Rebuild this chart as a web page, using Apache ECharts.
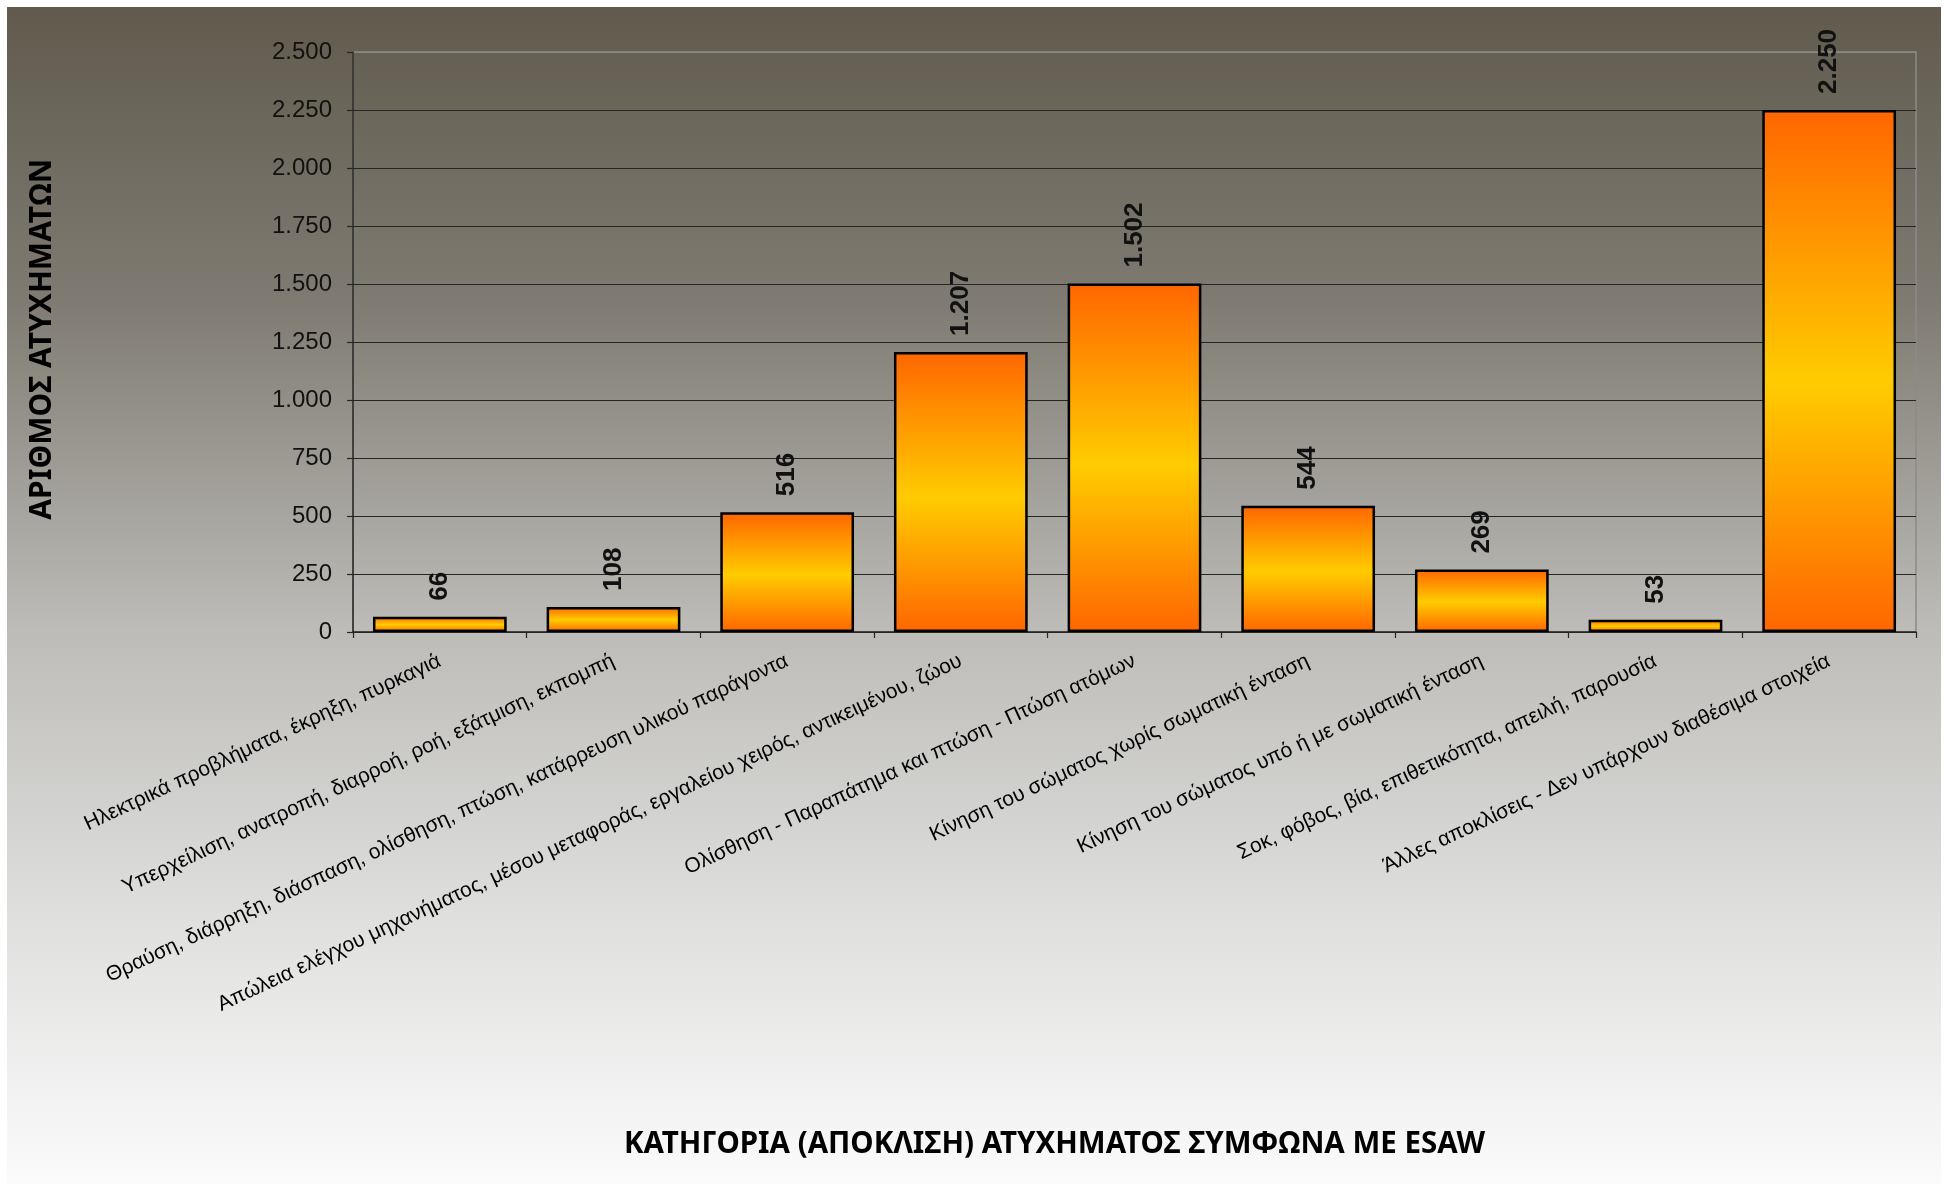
<!DOCTYPE html>
<html>
<head>
<meta charset="utf-8">
<script src="https://cdn.jsdelivr.net/npm/echarts@6/dist/echarts.min.js"></script>
<style>
html,body{margin:0;padding:0;background:#ffffff;}
#chart{position:absolute;left:7px;top:7px;width:1934px;height:1177px;}
</style>
</head>
<body>
<div id="chart"></div>
<script>
var categories = [
  "Ηλεκτρικά προβλήματα, έκρηξη, πυρκαγιά",
  "Υπερχείλιση, ανατροπή, διαρροή, ροή, εξάτμιση, εκπομπή",
  "Θραύση, διάρρηξη, διάσπαση, ολίσθηση, πτώση, κατάρρευση υλικού παράγοντα",
  "Απώλεια ελέγχου μηχανήματος, μέσου μεταφοράς, εργαλείου χειρός, αντικειμένου, ζώου",
  "Ολίσθηση - Παραπάτημα και πτώση - Πτώση ατόμων",
  "Κίνηση του σώματος χωρίς σωματική ένταση",
  "Κίνηση του σώματος υπό ή με σωματική ένταση",
  "Σοκ, φόβος, βία, επιθετικότητα, απειλή, παρουσία",
  "Άλλες αποκλίσεις - Δεν υπάρχουν διαθέσιμα στοιχεία"
];
var accidents = [66, 108, 516, 1207, 1502, 544, 269, 53, 2250];
var yMin = 0, yMax = 2500, yStep = 250;
var yAxisTitle = "ΑΡΙΘΜΟΣ ΑΤΥΧΗΜΑΤΩΝ";
var xAxisTitle = "ΚΑΤΗΓΟΡΙΑ (ΑΠΟΚΛΙΣΗ) ΑΤΥΧΗΜΑΤΟΣ ΣΥΜΦΩΝΑ ΜΕ ESAW";

function fmt(v) {
  return String(v).replace(/\B(?=(\d{3})+(?!\d))/g, '.');
}

var splitColors = [];
for (var v = yMin; v <= yMax; v += yStep) {
  splitColors.push(v === yMax ? '#8a8a8a' : '#262626');
}

var chart = echarts.init(document.getElementById('chart'), null, {renderer: 'canvas'});
var option = {
  backgroundColor: new echarts.graphic.LinearGradient(0, 0, 0, 1, [
    {offset: 0, color: '#605b4d'},
    {offset: 0.25, color: '#7f7b72'},
    {offset: 0.53, color: '#bdbcb8'},
    {offset: 0.78, color: '#e0e0df'},
    {offset: 1, color: '#fbfbfb'}
  ]),
  animation: false,
  title: {
    text: xAxisTitle,
    left: 612,
    top: 1118,
    textStyle: {fontFamily: 'Noto Sans', fontWeight: 'bold', fontSize: 29.5, color: '#000'}
  },
  graphic: [{
    type: 'text',
    left: 20,
    top: 152,
    rotation: Math.PI / 2,
    style: {
      text: yAxisTitle,
      font: 'bold 30px "Noto Sans"',
      fill: '#000'
    }
  }],
  grid: {
    left: 346, right: 25, top: 45, bottom: 552,
    show: true, borderColor: '#8a8a8a', borderWidth: 1.5, backgroundColor: 'transparent'
  },
  xAxis: {
    type: 'category',
    data: categories,
    axisLine: {lineStyle: {color: '#262626', width: 1.5}},
    axisTick: {show: true, length: 6, lineStyle: {color: '#262626', width: 1.2}},
    axisLabel: {
      interval: 0,
      rotate: 25,
      margin: 28,
      fontFamily: 'Liberation Sans',
      fontSize: 21,
      color: '#000'
    }
  },
  yAxis: {
    type: 'value',
    min: yMin, max: yMax, interval: yStep,
    axisLine: {show: true, lineStyle: {color: '#262626', width: 1.5}},
    axisTick: {show: true, length: 6, lineStyle: {color: '#262626', width: 1.2}},
    axisLabel: {
      margin: 21,
      fontFamily: 'Liberation Sans',
      fontSize: 24,
      color: '#111',
      formatter: function (v) { return fmt(v); }
    },
    splitLine: {show: true, lineStyle: {color: splitColors, width: 1.2}}
  },
  series: [{
    type: 'bar',
    data: accidents,
    barCategoryGap: '23%',
    itemStyle: {
      color: new echarts.graphic.LinearGradient(0, 0, 0, 1, [
        {offset: 0, color: '#ff6600'},
        {offset: 0.52, color: '#ffcc00'},
        {offset: 1, color: '#ff6600'}
      ]),
      borderColor: '#000',
      borderWidth: 2.5
    },
    label: {
      show: true,
      position: 'top',
      distance: 16,
      rotate: 90,
      align: 'left',
      verticalAlign: 'middle',
      fontFamily: 'Liberation Sans',
      fontWeight: 'bold',
      fontSize: 26,
      color: '#111',
      formatter: function (p) { return fmt(p.value); }
    }
  }]
};
chart.setOption(option);
</script>
</body>
</html>
